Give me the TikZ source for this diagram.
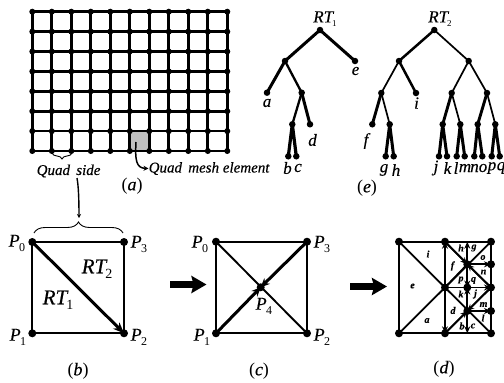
\documentclass[tikz,border=0pt]{standalone}
\usepackage{fontspec}
\setmainfont{Liberation Serif}[ItalicFeatures={FakeBold=0.35},BoldItalicFeatures={FakeBold=0.2}]
\usetikzlibrary{arrows.meta,decorations.pathreplacing}
\tikzset{
 x=1pt,y=-1pt,
 dot/.style={circle,fill=black,inner sep=0pt,minimum size=#1},
 dot/.default=8,
 gl/.style={line width=2.7},
 thickedge/.style={line width=3},
 thinedge/.style={line width=1.7},
 big/.style={line width=2.3},
 barr/.style={{Stealth[length=7,width=6]}-{Stealth[length=7,width=6]},line width=1.8},
 sarr/.style={-{Stealth[length=7,width=6]},line width=1.8},
 blockarrow/.style={-{Stealth[length=15,width=17,inset=2]},line width=6.5},
 lab/.style={font=\fontsize{15}{15}\selectfont\itshape,inner sep=0pt},
 captext/.style={font=\fontsize{18}{18}\selectfont,inner sep=0pt},
 pl/.style={font=\fontsize{18}{18}\selectfont\itshape,inner sep=0pt},
 tl/.style={font=\fontsize{17}{17}\selectfont\itshape,inner sep=0pt},
 rtb/.style={font=\fontsize{21}{21}\selectfont\itshape,inner sep=0pt},
 dtext/.style={font=\fontsize{10}{10}\selectfont\bfseries\itshape,inner sep=0pt},
}
\newcommand{\Pn}[1]{P\kern-0.5pt\raisebox{-0.25em}{\fontsize{12}{12}\selectfont\upshape #1}}
\newcommand{\RTn}[2][9]{RT\kern-1pt\raisebox{-0.25em}{\fontsize{#1}{#1}\selectfont\upshape #2}}
\begin{document}
\begin{tikzpicture}
\useasboundingbox (0,0) rectangle (504,383);
% (a)
\fill[black!25] (130.5,131.9) rectangle (148,151);
\foreach \i in {0,...,10}{
  \draw[gl] ({32.3+19.5*\i},11.7) -- ({32.3+19.5*\i},151);}
\foreach \j in {0,...,7}{
  \draw[gl] (32.3,{11.7+19.9*\j}) -- (227.3,{11.7+19.9*\j});}
\foreach \i in {0,...,10}\foreach \j in {0,...,7}{
  \node[dot=6] at ({32.3+19.5*\i},{11.7+19.9*\j}) {};}
\coordinate (qs1) at (52,153);
\coordinate (qs2) at (72,153);
\draw[line width=0.9,decorate,decoration={brace,amplitude=6}] (qs2) -- (qs1);
\node[lab,anchor=west] (qside) at (36.5,171) {Quad\, side};
\node[lab,anchor=west] (qmesh) at (148.5,168.5) {Quad\, mesh element};
\coordinate (me) at (136,142);
\draw[line width=1.5,-{Stealth[length=5,width=5]}] (me) .. controls (135,160) and (136,168) .. (qmesh.west);
\node[captext] (capa) at (132,186) {(\textit{a})};
% (b)
\node[dot] (b0) at (32.3,242) {};
\node[dot] (b3) at (124,242) {};
\node[dot] (b1) at (32.3,333.3) {};
\node[dot] (b2) at (124,333.3) {};
\draw[big] (b0.center)--(b3.center)--(b2.center)--(b1.center)--cycle;
\draw[line width=3,-{Stealth[length=11,width=9]}] (b0.center)--(b2.center);
\node[pl] at (17,243) {\Pn{0}};
\node[pl] at (139,244) {\Pn{3}};
\node[pl] at (18,337) {\Pn{1}};
\node[pl] at (139,337) {\Pn{2}};
\node[rtb] at (97,269) {\RTn[14]{2}};
\node[rtb] at (58,300) {\RTn[14]{1}};
\coordinate (br1) at (34,233);
\coordinate (br2) at (123,233);
\draw[line width=0.9,decorate,decoration={brace,amplitude=11}] (br1) -- (br2);
\coordinate (brs) at (77,178);
\coordinate (brt) at (79,218);
\draw[line width=1.4,-{Stealth[length=4,width=4]}] (brs) .. controls (78.5,186) and (79,200) .. (brt);
\node[captext] (capb) at (78,371) {(\textit{b})};
% block arrows
\coordinate (ar1) at (170,284.5);
\coordinate (ar2) at (206.5,284.5);
\draw[blockarrow] (ar1)--(ar2);
\coordinate (ar3) at (350,286.5);
\coordinate (ar4) at (387,286.5);
\draw[blockarrow] (ar3)--(ar4);
% (c)
\node[dot] (c0) at (216,241.7) {};
\node[dot] (c3) at (307,241.7) {};
\node[dot] (c1) at (216,333.3) {};
\node[dot] (c2) at (307,333.3) {};
\node[dot] (c4) at (260.7,287.3) {};
\draw[big] (c0.center)--(c3.center)--(c2.center)--(c1.center)--cycle;
\draw[line width=1.9] (c0.center)--(c2.center);
\draw[line width=3,-{Stealth[length=9,width=8]}] (c1.center)--(c4.center);
\draw[line width=3,-{Stealth[length=9,width=8]}] (c3.center)--(c4.center);
\node[pl] at (200,244) {\Pn{0}};
\node[pl] at (322,244) {\Pn{3}};
\node[pl] at (202,337) {\Pn{1}};
\node[pl] at (322,337) {\Pn{2}};
\node[pl] at (264,306) {\Pn{4}};
\node[captext] (capc) at (259,371) {(\textit{c})};
% (d)
\node[dot] (d0) at (399,241.7) {};
\node[dot] (d3) at (491,241.7) {};
\node[dot] (d1) at (399,333.3) {};
\node[dot] (d2) at (491,333.3) {};
\node[dot] (dt) at (445,241.7) {};
\node[dot] (db) at (445,333.3) {};
\node[dot] (dc) at (445,287.5) {};
\node[dot] (du) at (467.3,264.3) {};
\node[dot] (dl) at (467.3,311) {};
\node[dot] (dm) at (467.3,287.5) {};
\node[dot] (dr) at (491,287.5) {};
\node[dot] (dru) at (491,264.3) {};
\node[dot] (drl) at (491,311) {};
\coordinate (dut) at (467.3,241.7);
\coordinate (dlb) at (467.3,333.3);
\draw[big] (d0.center)--(d3.center)--(d2.center)--(d1.center)--cycle;
\draw[line width=1.8] (d0.center)--(d2.center) (d1.center)--(d3.center);
\draw[line width=1.8] (dt.center)--(dr.center)--(db.center);
\draw[line width=1.8] (dc.center)--(du.center);
\draw[barr] (dt.center)--(db.center);
\draw[sarr] (dc.center)--(dr.center);
\draw[sarr] (du.center)--(dut);
\draw[sarr] (du.center)--(dm.center);
\draw[sarr] (dl.center)--(dm.center);
\draw[sarr] (dl.center)--(dlb);
\draw[sarr] (du.center)--(dru.center);
\draw[sarr] (dl.center)--(drl.center);
\draw[sarr] (dt.center)--(du.center);
\draw[sarr] (dr.center)--(du.center);
\draw[sarr] (dr.center)--(dl.center);
\draw[sarr] (db.center)--(dl.center);
\node[dtext] at (428,254) {i};
\node[dtext] at (452.5,266) {f};
\node[dtext] at (412.5,286) {e};
\node[dtext] at (427,320.5) {a};
\node[dtext] at (453,310.5) {d};
\node[dtext] at (461,248) {h};
\node[dtext] at (474,248) {g};
\node[dtext] at (483,257.5) {o};
\node[dtext] at (483.5,272) {n};
\node[dtext] at (461,280) {p};
\node[dtext] at (473.5,280.5) {q};
\node[dtext] at (461,294) {k};
\node[dtext] at (475.5,294) {j};
\node[dtext] at (483.5,304.5) {m};
\node[dtext] at (483,318) {l};
\node[dtext] at (462,326) {b};
\node[dtext] at (473,326) {c};
\node[captext] (capd) at (444,369) {(\textit{d})};
% (e) RT1
\node[tl] at (325,19) {\RTn{1}};
\node[dot=6.5] (r1) at (320,30) {};
\node[dot=6.5] (r1l) at (285,61) {};
\node[dot=6.5] (e) at (355,61) {};
\node[dot=6.5] (a) at (267,92.7) {};
\node[dot=6.5] (r1m) at (301.7,92.7) {};
\node[dot=6.5] (r1n) at (292.3,124.3) {};
\node[dot=6.5] (d) at (310,124.3) {};
\node[dot=6.5] (b) at (288.3,156.3) {};
\node[dot=6.5] (c) at (296.3,156.3) {};
\draw[thickedge] (r1.center)--(r1l.center) (r1.center)--(e.center) (r1l.center)--(a.center) (r1m.center)--(d.center);
\draw[line width=2.3] (r1l.center)--(r1m.center) (r1m.center)--(r1n.center);
\draw[line width=3.2] (r1n.center)--(b.center) (r1n.center)--(c.center);
\node[tl] at (355.5,71) {e};
\node[tl] at (267,103) {a};
\node[tl] at (312.5,140) {d};
\node[tl] at (287.5,168) {b};
\node[tl] at (298,168) {c};
% (e) RT2
\node[tl] at (440,19) {\RTn{2}};
\node[dot=6.5] (r2) at (434.3,30) {};
\node[dot=6.5] (L) at (399,61) {};
\node[dot=6.5] (R) at (468.7,61) {};
\node[dot=6.5] (LL) at (381.3,93) {};
\node[dot=6.5] (i) at (416,93) {};
\node[dot=6.5] (f) at (372.3,124.3) {};
\node[dot=6.5] (gh) at (389.7,124.3) {};
\node[dot=6.5] (g) at (385.7,156.3) {};
\node[dot=6.5] (h) at (393.7,156.3) {};
\node[dot=6.5] (RL) at (451.7,93) {};
\node[dot=6.5] (RR) at (487,93) {};
\node[dot=6.5] (RLL) at (442.7,124.3) {};
\node[dot=6.5] (RLR) at (460.3,124.3) {};
\node[dot=6.5] (RRL) at (477.7,124.3) {};
\node[dot=6.5] (RRR) at (495.3,124.3) {};
\node[dot=6.5] (j) at (439,156.3) {};
\node[dot=6.5] (k) at (447,156.3) {};
\node[dot=6.5] (l) at (456.7,156.3) {};
\node[dot=6.5] (m) at (464.7,156.3) {};
\node[dot=6.5] (n) at (474.3,156.3) {};
\node[dot=6.5] (o) at (482.3,156.3) {};
\node[dot=6.5] (p) at (491.7,156.3) {};
\node[dot=6.5] (q) at (499.7,156.3) {};
\draw[line width=2.5] (r2.center)--(L.center) (L.center)--(i.center);
\draw[thinedge] (r2.center)--(R.center) (L.center)--(LL.center) (R.center)--(RL.center) (R.center)--(RR.center) (LL.center)--(gh.center) (RL.center)--(RLR.center) (RR.center)--(RRR.center);
\draw[line width=2.9] (LL.center)--(f.center) (RL.center)--(RLL.center) (RR.center)--(RRL.center);
\draw[line width=3] (gh.center)--(g.center) (gh.center)--(h.center) (RLL.center)--(j.center) (RLL.center)--(k.center) (RLR.center)--(l.center) (RLR.center)--(m.center) (RRL.center)--(n.center) (RRL.center)--(o.center) (RRR.center)--(p.center) (RRR.center)--(q.center);
\node[tl] at (416.5,103) {i};
\node[tl] at (366,141) {f};
\node[tl] at (384,170) {g};
\node[tl] at (396,170) {h};
\node[tl] at (436,168) {j};
\node[tl] at (447.5,168) {k};
\node[tl] at (456,168) {l};
\node[tl] at (465,168) {m};
\node[tl] at (474.5,168) {n};
\node[tl] at (483,168) {o};
\node[tl] at (492,168) {p};
\node[tl] at (501,168) {q};
\node[captext] (cape) at (367,188) {(\textit{e})};
\end{tikzpicture}
\end{document}
